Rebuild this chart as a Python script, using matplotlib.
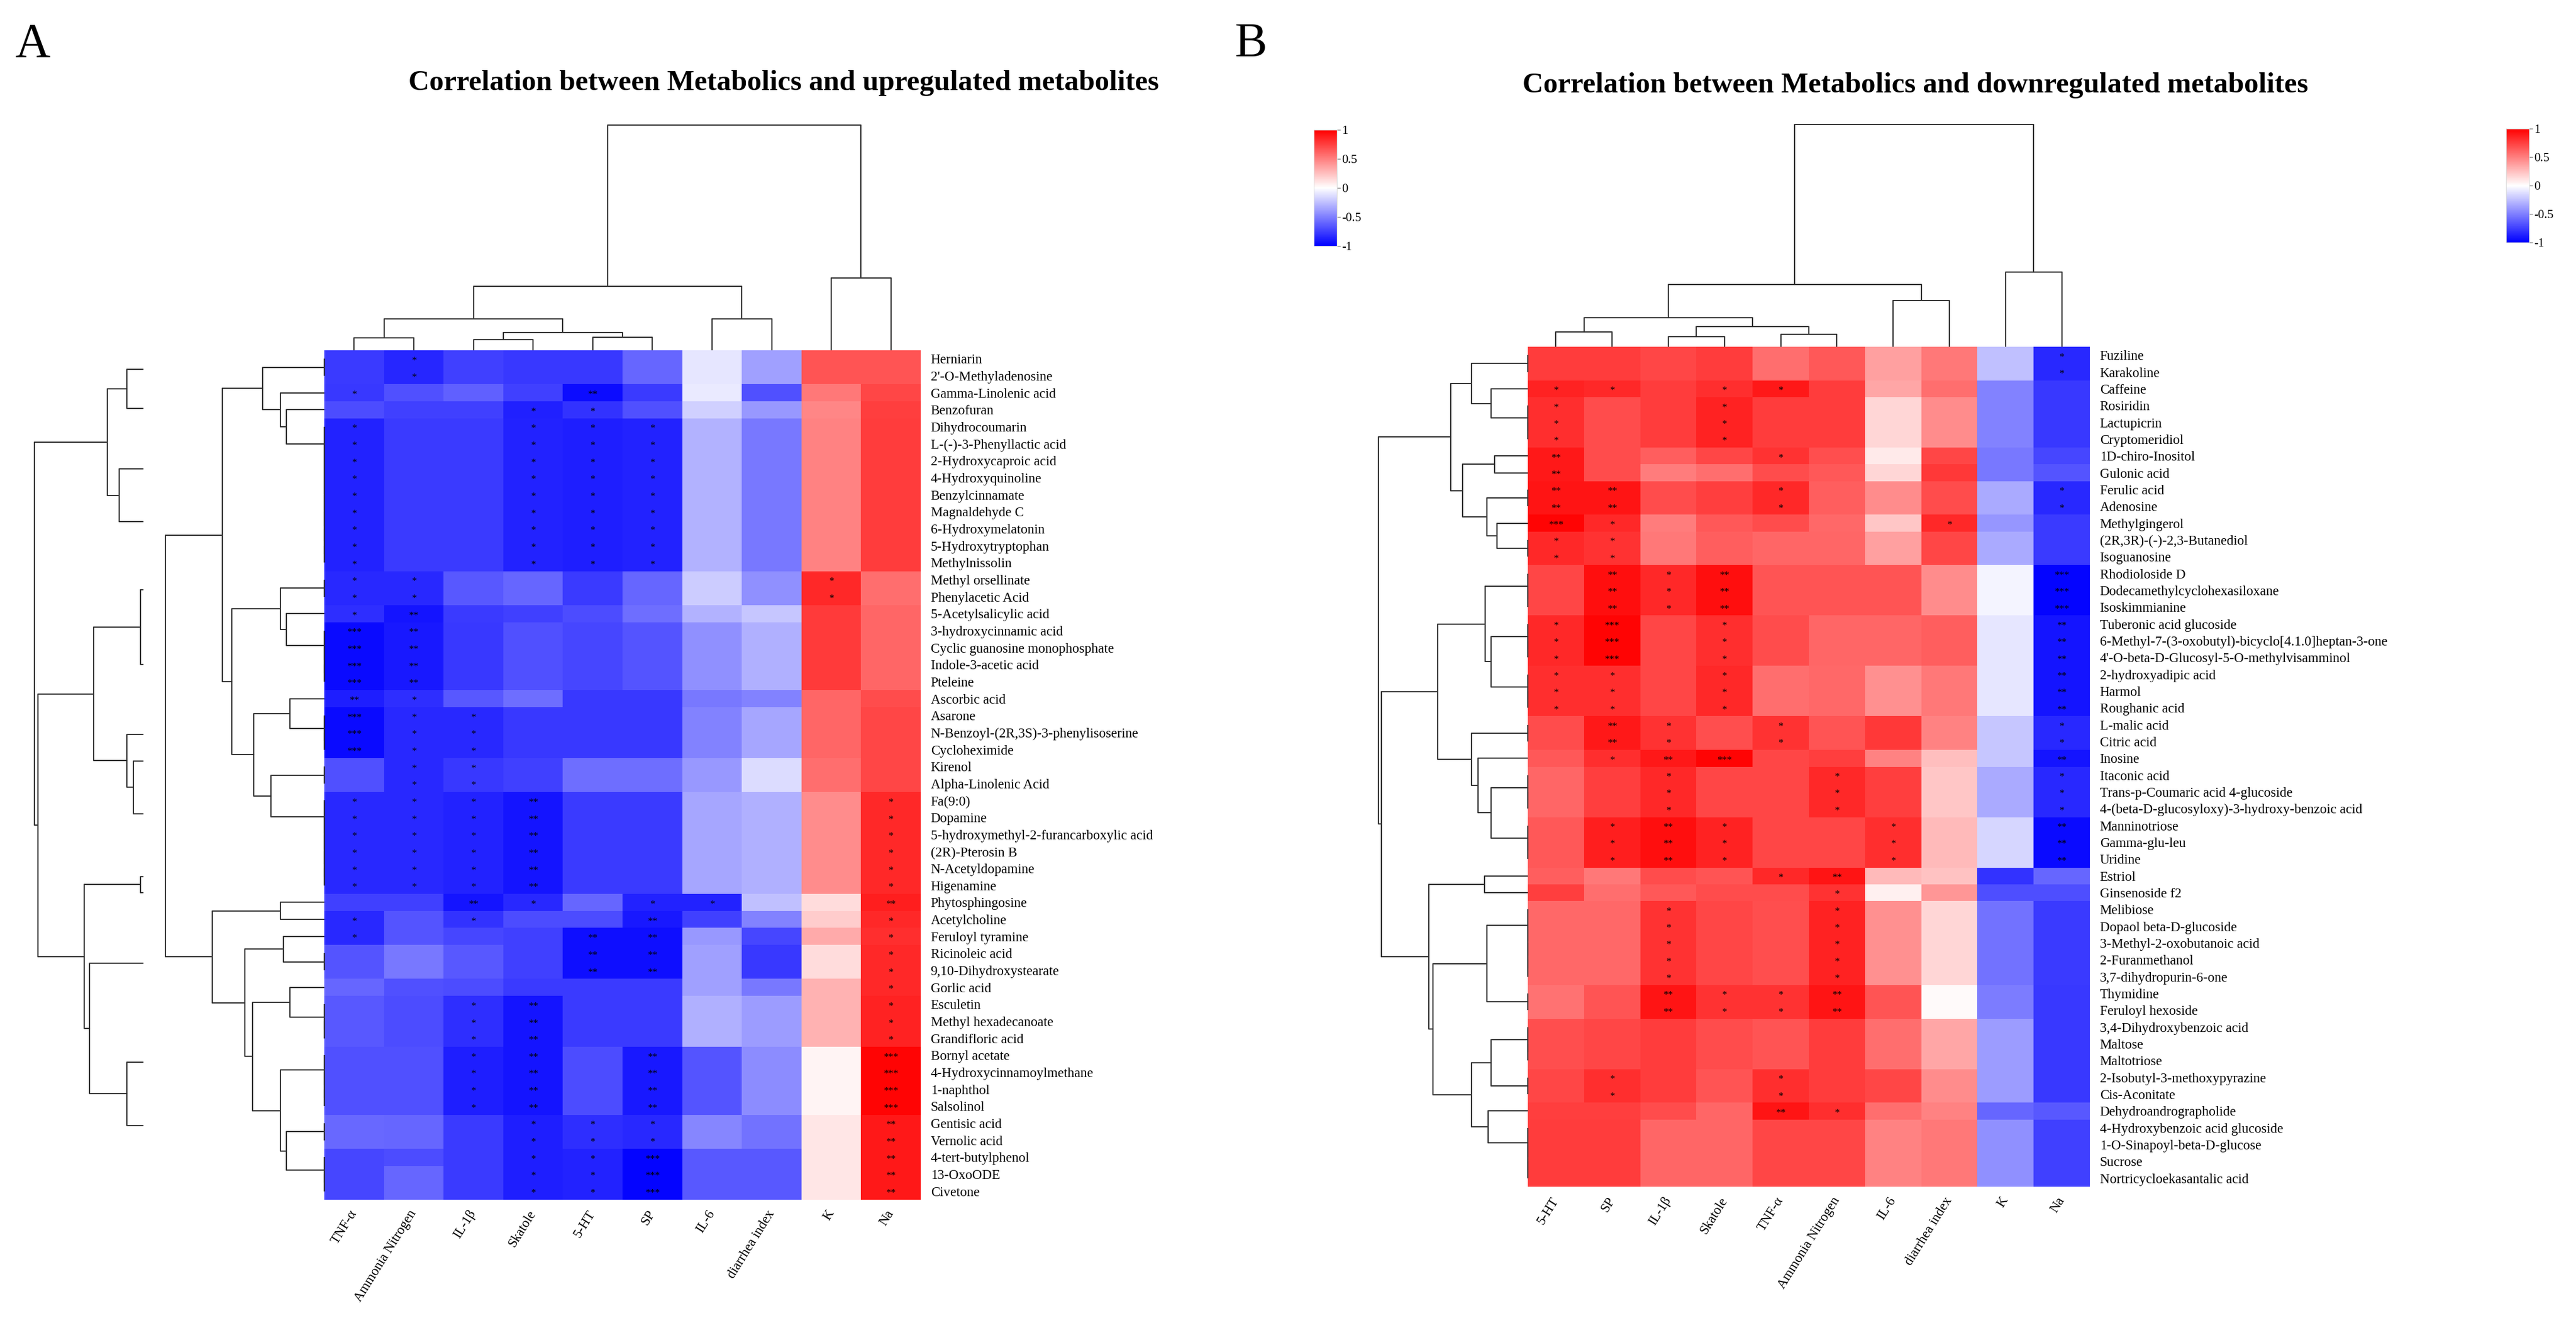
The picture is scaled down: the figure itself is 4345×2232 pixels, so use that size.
import numpy as np
import matplotlib
matplotlib.use("Agg")
import matplotlib.pyplot as plt

plt.rcParams["font.family"] = ["Liberation Serif", "DejaVu Serif"]
plt.rcParams["axes.unicode_minus"] = False

FIG_W, FIG_H = 4345, 2232
LINE = "#333333"


def chain(first, last):
    # identical rows join at height 0, bottom-up like R's hclust
    node = last
    for i in range(last - 1, first - 1, -1):
        node = (0.0, i, node)
    return node


# ---------------- panel A : upregulated metabolites ----------------
left_cols = ["TNF-α", "Ammonia Nitrogen", "IL-1β", "Skatole", "5-HT", "SP",
             "IL-6", "diarrhea index", "K", "Na"]
left_rows = [
    "Herniarin", "2'-O-Methyladenosine", "Gamma-Linolenic acid", "Benzofuran",
    "Dihydrocoumarin", "L-(-)-3-Phenyllactic acid", "2-Hydroxycaproic acid",
    "4-Hydroxyquinoline", "Benzylcinnamate", "Magnaldehyde C", "6-Hydroxymelatonin",
    "5-Hydroxytryptophan", "Methylnissolin", "Methyl orsellinate", "Phenylacetic Acid",
    "5-Acetylsalicylic acid", "3-hydroxycinnamic acid", "Cyclic guanosine monophosphate",
    "Indole-3-acetic acid", "Pteleine", "Ascorbic acid", "Asarone",
    "N-Benzoyl-(2R,3S)-3-phenylisoserine", "Cycloheximide", "Kirenol",
    "Alpha-Linolenic Acid", "Fa(9:0)", "Dopamine", "5-hydroxymethyl-2-furancarboxylic acid",
    "(2R)-Pterosin B", "N-Acetyldopamine", "Higenamine", "Phytosphingosine",
    "Acetylcholine", "Feruloyl tyramine", "Ricinoleic acid", "9,10-Dihydroxystearate",
    "Gorlic acid", "Esculetin", "Methyl hexadecanoate", "Grandifloric acid",
    "Bornyl acetate", "4-Hydroxycinnamoylmethane", "1-naphthol", "Salsolinol",
    "Gentisic acid", "Vernolic acid", "4-tert-butylphenol", "13-OxoODE", "Civetone",
]
left_vals = [
    [-0.77, -0.85, -0.75, -0.78, -0.78, -0.60, -0.10, -0.37, 0.67, 0.67],
    [-0.77, -0.85, -0.75, -0.78, -0.78, -0.60, -0.10, -0.37, 0.67, 0.67],
    [-0.78, -0.68, -0.62, -0.75, -0.95, -0.77, -0.08, -0.68, 0.53, 0.72],
    [-0.70, -0.75, -0.75, -0.87, -0.80, -0.68, -0.18, -0.40, 0.47, 0.75],
    [-0.86, -0.77, -0.77, -0.86, -0.88, -0.86, -0.30, -0.53, 0.49, 0.76],
    [-0.86, -0.77, -0.77, -0.86, -0.88, -0.86, -0.30, -0.53, 0.49, 0.76],
    [-0.86, -0.77, -0.77, -0.86, -0.88, -0.86, -0.30, -0.53, 0.49, 0.76],
    [-0.86, -0.77, -0.77, -0.86, -0.88, -0.86, -0.30, -0.53, 0.49, 0.76],
    [-0.86, -0.77, -0.77, -0.86, -0.88, -0.86, -0.30, -0.53, 0.49, 0.76],
    [-0.86, -0.77, -0.77, -0.86, -0.88, -0.86, -0.30, -0.53, 0.49, 0.76],
    [-0.86, -0.77, -0.77, -0.86, -0.88, -0.86, -0.30, -0.53, 0.49, 0.76],
    [-0.86, -0.77, -0.77, -0.86, -0.88, -0.86, -0.30, -0.53, 0.49, 0.76],
    [-0.86, -0.77, -0.77, -0.86, -0.88, -0.86, -0.30, -0.53, 0.49, 0.76],
    [-0.84, -0.84, -0.65, -0.60, -0.77, -0.60, -0.20, -0.43, 0.84, 0.57],
    [-0.84, -0.84, -0.65, -0.60, -0.77, -0.60, -0.20, -0.43, 0.84, 0.57],
    [-0.82, -0.92, -0.77, -0.75, -0.70, -0.57, -0.30, -0.22, 0.77, 0.60],
    [-0.96, -0.90, -0.78, -0.68, -0.72, -0.67, -0.43, -0.31, 0.77, 0.60],
    [-0.96, -0.90, -0.78, -0.68, -0.72, -0.67, -0.43, -0.31, 0.77, 0.60],
    [-0.96, -0.90, -0.78, -0.68, -0.72, -0.67, -0.43, -0.31, 0.77, 0.60],
    [-0.96, -0.90, -0.78, -0.68, -0.72, -0.67, -0.43, -0.31, 0.77, 0.60],
    [-0.88, -0.82, -0.65, -0.57, -0.78, -0.78, -0.53, -0.49, 0.60, 0.70],
    [-0.96, -0.84, -0.84, -0.78, -0.78, -0.78, -0.49, -0.35, 0.60, 0.72],
    [-0.96, -0.84, -0.84, -0.78, -0.78, -0.78, -0.49, -0.35, 0.60, 0.72],
    [-0.96, -0.84, -0.84, -0.78, -0.78, -0.78, -0.49, -0.35, 0.60, 0.72],
    [-0.68, -0.84, -0.78, -0.75, -0.57, -0.57, -0.40, -0.14, 0.57, 0.72],
    [-0.68, -0.84, -0.78, -0.75, -0.57, -0.57, -0.40, -0.14, 0.57, 0.72],
    [-0.84, -0.84, -0.86, -0.92, -0.77, -0.77, -0.35, -0.31, 0.45, 0.84],
    [-0.84, -0.84, -0.86, -0.92, -0.77, -0.77, -0.35, -0.31, 0.45, 0.84],
    [-0.84, -0.84, -0.86, -0.92, -0.77, -0.77, -0.35, -0.31, 0.45, 0.84],
    [-0.84, -0.84, -0.86, -0.92, -0.77, -0.77, -0.35, -0.31, 0.45, 0.84],
    [-0.84, -0.84, -0.86, -0.92, -0.77, -0.77, -0.35, -0.31, 0.45, 0.84],
    [-0.84, -0.84, -0.86, -0.92, -0.77, -0.77, -0.35, -0.31, 0.45, 0.84],
    [-0.75, -0.75, -0.92, -0.84, -0.60, -0.86, -0.86, -0.25, 0.14, 0.88],
    [-0.84, -0.67, -0.80, -0.70, -0.70, -0.90, -0.75, -0.49, 0.20, 0.84],
    [-0.84, -0.67, -0.72, -0.75, -0.94, -0.94, -0.40, -0.72, 0.33, 0.82],
    [-0.67, -0.53, -0.65, -0.75, -0.94, -0.94, -0.37, -0.78, 0.14, 0.84],
    [-0.67, -0.53, -0.65, -0.75, -0.94, -0.94, -0.37, -0.78, 0.14, 0.84],
    [-0.60, -0.68, -0.70, -0.77, -0.77, -0.77, -0.37, -0.53, 0.30, 0.84],
    [-0.65, -0.70, -0.82, -0.92, -0.77, -0.77, -0.31, -0.39, 0.30, 0.86],
    [-0.65, -0.70, -0.82, -0.92, -0.77, -0.77, -0.31, -0.39, 0.30, 0.86],
    [-0.65, -0.70, -0.82, -0.92, -0.77, -0.77, -0.31, -0.39, 0.30, 0.86],
    [-0.68, -0.68, -0.88, -0.92, -0.70, -0.90, -0.67, -0.45, 0.04, 0.98],
    [-0.68, -0.68, -0.88, -0.92, -0.70, -0.90, -0.67, -0.45, 0.04, 0.98],
    [-0.68, -0.68, -0.88, -0.92, -0.70, -0.90, -0.67, -0.45, 0.04, 0.98],
    [-0.68, -0.68, -0.88, -0.92, -0.70, -0.90, -0.67, -0.45, 0.04, 0.98],
    [-0.59, -0.60, -0.77, -0.88, -0.82, -0.84, -0.47, -0.55, 0.10, 0.90],
    [-0.59, -0.60, -0.77, -0.88, -0.82, -0.84, -0.47, -0.55, 0.10, 0.90],
    [-0.72, -0.70, -0.77, -0.88, -0.86, -0.98, -0.65, -0.65, 0.10, 0.90],
    [-0.72, -0.60, -0.77, -0.88, -0.86, -0.98, -0.65, -0.65, 0.10, 0.90],
    [-0.72, -0.60, -0.77, -0.88, -0.86, -0.98, -0.65, -0.65, 0.10, 0.90],
]
# number of significance stars per cell
left_stars = [
    "0100000000", "0100000000", "1000200000", "0001100000",
    "1001110000", "1001110000", "1001110000", "1001110000", "1001110000",
    "1001110000", "1001110000", "1001110000", "1001110000",
    "1100000010", "1100000010", "1200000000",
    "3200000000", "3200000000", "3200000000", "3200000000",
    "2100000000", "3110000000", "3110000000", "3110000000",
    "0110000000", "0110000000",
    "1112000001", "1112000001", "1112000001", "1112000001", "1112000001", "1112000001",
    "0021011002", "1010020001", "1000220001", "0000220001", "0000220001",
    "0000000001", "0012000001", "0012000001", "0012000001",
    "0012020003", "0012020003", "0012020003", "0012020003",
    "0001110002", "0001110002", "0001130002", "0001130002", "0001130002",
]
# dendrograms: (height, left, right), leaves are row / column indices
left_row_tree = (2.68,
    (1.72,
        (1.04, chain(0, 1), (0.74, 2, (0.64, 3, chain(4, 12)))),
        (1.56,
            (0.74, chain(13, 14), (0.64, 15, chain(16, 19))),
            (1.19, (0.58, 20, chain(21, 23)), (0.90, chain(24, 25), chain(26, 31))))),
    (1.89,
        (0.74, 32, 33),
        (1.34,
            (0.69, 34, chain(35, 36)),
            (1.21, (0.58, 37, chain(38, 40)),
                   (0.74, chain(41, 44), (0.64, chain(45, 46), chain(47, 49)))))))
# older tree left behind the main one (leaves given as row positions, cut off)
left_row_ghost = (4.89,
    (3.66, (3.33, 1.12, 3.42), (3.46, 6.97, 10.10)),
    (4.83,
        (3.89, (3.10, 14.11, 18.49), (3.33, 22.60, (3.22, 24.18, 27.27))),
        (4.05, (3.10, 30.99, 31.91), (3.96, 36.09, (3.33, 41.91, 45.63)))))
left_ghost_cut = 3.05
left_col_tree = (3.80,
    (1.08,
        (0.53, (0.21, 0, 1), (0.30, (0.18, 2, 3), (0.22, 4, 5))),
        (0.53, 6, 7)),
    (1.22, 8, 9))

# ---------------- panel B : downregulated metabolites ----------------
right_cols = ["5-HT", "SP", "IL-1β", "Skatole", "TNF-α", "Ammonia Nitrogen",
              "IL-6", "diarrhea index", "K", "Na"]
right_rows = [
    "Fuziline", "Karakoline", "Caffeine", "Rosiridin", "Lactupicrin", "Cryptomeridiol",
    "1D-chiro-Inositol", "Gulonic acid", "Ferulic acid", "Adenosine", "Methylgingerol",
    "(2R,3R)-(-)-2,3-Butanediol", "Isoguanosine", "Rhodioloside D",
    "Dodecamethylcyclohexasiloxane", "Isoskimmianine", "Tuberonic acid glucoside",
    "6-Methyl-7-(3-oxobutyl)-bicyclo[4.1.0]heptan-3-one",
    "4'-O-beta-D-Glucosyl-5-O-methylvisamminol", "2-hydroxyadipic acid", "Harmol",
    "Roughanic acid", "L-malic acid", "Citric acid", "Inosine", "Itaconic acid",
    "Trans-p-Coumaric acid 4-glucoside", "4-(beta-D-glucosyloxy)-3-hydroxy-benzoic acid",
    "Manninotriose", "Gamma-glu-leu", "Uridine", "Estriol", "Ginsenoside f2", "Melibiose",
    "Dopaol beta-D-glucoside", "3-Methyl-2-oxobutanoic acid", "2-Furanmethanol",
    "3,7-dihydropurin-6-one", "Thymidine", "Feruloyl hexoside", "3,4-Dihydroxybenzoic acid",
    "Maltose", "Maltotriose", "2-Isobutyl-3-methoxypyrazine", "Cis-Aconitate",
    "Dehydroandrographolide", "4-Hydroxybenzoic acid glucoside",
    "1-O-Sinapoyl-beta-D-glucose", "Sucrose", "Nortricycloekasantalic acid",
]
right_vals = [
    [0.76, 0.76, 0.72, 0.76, 0.57, 0.65, 0.37, 0.53, -0.25, -0.84],
    [0.76, 0.76, 0.72, 0.76, 0.57, 0.65, 0.37, 0.53, -0.25, -0.84],
    [0.86, 0.84, 0.76, 0.82, 0.90, 0.76, 0.35, 0.57, -0.49, -0.78],
    [0.82, 0.70, 0.76, 0.86, 0.76, 0.76, 0.16, 0.45, -0.49, -0.78],
    [0.82, 0.70, 0.76, 0.86, 0.76, 0.76, 0.16, 0.45, -0.49, -0.78],
    [0.82, 0.70, 0.76, 0.86, 0.76, 0.76, 0.16, 0.45, -0.49, -0.78],
    [0.90, 0.70, 0.63, 0.72, 0.80, 0.69, 0.08, 0.72, -0.53, -0.72],
    [0.90, 0.70, 0.51, 0.57, 0.70, 0.65, 0.16, 0.78, -0.53, -0.67],
    [0.92, 0.92, 0.70, 0.75, 0.84, 0.63, 0.45, 0.70, -0.33, -0.84],
    [0.92, 0.92, 0.70, 0.75, 0.84, 0.63, 0.45, 0.70, -0.33, -0.84],
    [0.98, 0.84, 0.51, 0.65, 0.70, 0.59, 0.22, 0.84, -0.41, -0.77],
    [0.84, 0.80, 0.53, 0.63, 0.60, 0.60, 0.37, 0.72, -0.33, -0.77],
    [0.84, 0.80, 0.53, 0.63, 0.60, 0.60, 0.37, 0.72, -0.33, -0.77],
    [0.72, 0.94, 0.84, 0.94, 0.67, 0.67, 0.67, 0.45, -0.04, -0.98],
    [0.72, 0.94, 0.84, 0.94, 0.67, 0.67, 0.67, 0.45, -0.04, -0.98],
    [0.72, 0.94, 0.84, 0.94, 0.67, 0.67, 0.67, 0.45, -0.04, -0.98],
    [0.84, 0.98, 0.72, 0.82, 0.70, 0.60, 0.60, 0.63, -0.10, -0.92],
    [0.84, 0.98, 0.72, 0.82, 0.70, 0.60, 0.60, 0.63, -0.10, -0.92],
    [0.84, 0.98, 0.72, 0.82, 0.70, 0.60, 0.60, 0.63, -0.10, -0.92],
    [0.82, 0.82, 0.72, 0.84, 0.57, 0.59, 0.43, 0.53, -0.10, -0.92],
    [0.82, 0.82, 0.72, 0.84, 0.57, 0.59, 0.43, 0.53, -0.10, -0.92],
    [0.82, 0.82, 0.72, 0.84, 0.57, 0.59, 0.43, 0.53, -0.10, -0.92],
    [0.70, 0.90, 0.80, 0.69, 0.80, 0.67, 0.78, 0.49, -0.22, -0.84],
    [0.70, 0.90, 0.80, 0.69, 0.80, 0.67, 0.78, 0.49, -0.22, -0.84],
    [0.65, 0.82, 0.90, 0.98, 0.72, 0.75, 0.49, 0.25, -0.22, -0.92],
    [0.60, 0.75, 0.84, 0.72, 0.72, 0.84, 0.75, 0.22, -0.33, -0.84],
    [0.60, 0.75, 0.84, 0.72, 0.72, 0.84, 0.75, 0.22, -0.33, -0.84],
    [0.60, 0.75, 0.84, 0.72, 0.72, 0.84, 0.75, 0.22, -0.33, -0.84],
    [0.65, 0.88, 0.94, 0.86, 0.72, 0.72, 0.82, 0.27, -0.16, -0.96],
    [0.65, 0.88, 0.94, 0.86, 0.72, 0.72, 0.82, 0.27, -0.16, -0.96],
    [0.65, 0.88, 0.94, 0.86, 0.72, 0.72, 0.82, 0.27, -0.16, -0.96],
    [0.63, 0.53, 0.70, 0.67, 0.84, 0.92, 0.27, 0.24, -0.80, -0.60],
    [0.75, 0.57, 0.65, 0.70, 0.70, 0.80, 0.06, 0.41, -0.69, -0.69],
    [0.59, 0.59, 0.80, 0.72, 0.69, 0.86, 0.43, 0.16, -0.55, -0.77],
    [0.59, 0.59, 0.80, 0.72, 0.69, 0.86, 0.43, 0.16, -0.55, -0.77],
    [0.59, 0.59, 0.80, 0.72, 0.69, 0.86, 0.43, 0.16, -0.55, -0.77],
    [0.59, 0.59, 0.80, 0.72, 0.69, 0.86, 0.43, 0.16, -0.55, -0.77],
    [0.59, 0.59, 0.80, 0.72, 0.69, 0.86, 0.43, 0.16, -0.55, -0.77],
    [0.55, 0.67, 0.92, 0.80, 0.80, 0.92, 0.67, 0.02, -0.51, -0.78],
    [0.55, 0.67, 0.92, 0.80, 0.80, 0.92, 0.67, 0.02, -0.51, -0.78],
    [0.69, 0.72, 0.76, 0.70, 0.67, 0.76, 0.57, 0.35, -0.39, -0.78],
    [0.69, 0.72, 0.76, 0.70, 0.67, 0.76, 0.57, 0.35, -0.39, -0.78],
    [0.69, 0.72, 0.76, 0.70, 0.67, 0.76, 0.57, 0.35, -0.39, -0.78],
    [0.72, 0.82, 0.76, 0.67, 0.82, 0.76, 0.72, 0.45, -0.39, -0.78],
    [0.72, 0.82, 0.76, 0.67, 0.82, 0.76, 0.72, 0.45, -0.39, -0.78],
    [0.75, 0.75, 0.70, 0.60, 0.92, 0.82, 0.57, 0.49, -0.60, -0.65],
    [0.76, 0.76, 0.60, 0.60, 0.72, 0.72, 0.49, 0.53, -0.43, -0.75],
    [0.76, 0.76, 0.60, 0.60, 0.72, 0.72, 0.49, 0.53, -0.43, -0.75],
    [0.76, 0.76, 0.60, 0.60, 0.72, 0.72, 0.49, 0.53, -0.43, -0.75],
    [0.76, 0.76, 0.60, 0.60, 0.72, 0.72, 0.49, 0.53, -0.43, -0.75],
]
right_stars = [
    "0000000001", "0000000001", "1101100000", "1001000000", "1001000000", "1001000000",
    "2000100000", "2000000000", "2200100001", "2200100001", "3100000100",
    "1100000000", "1100000000",
    "0212000003", "0212000003", "0212000003",
    "1301000002", "1301000002", "1301000002",
    "1101000002", "1101000002", "1101000002",
    "0210100001", "0210100001", "0123000002",
    "0010010001", "0010010001", "0010010001",
    "0121001002", "0121001002", "0121001002",
    "0000120000", "0000010000",
    "0010010000", "0010010000", "0010010000", "0010010000", "0010010000",
    "0021120000", "0021120000",
    "0000000000", "0000000000", "0000000000",
    "0100100000", "0100100000", "0000210000",
    "0000000000", "0000000000", "0000000000", "0000000000",
]
right_row_tree = (2.52,
    (1.30,
        (0.95, chain(0, 1), (0.62, 2, chain(3, 5))),
        (1.10, (0.56, 6, 7), (0.69, chain(8, 9), (0.52, 10, chain(11, 12))))),
    (2.47,
        (1.52,
            (0.72, chain(13, 15), (0.62, chain(16, 18), chain(19, 21))),
            (0.95, chain(22, 23), (0.84, 24, (0.62, chain(25, 27), chain(28, 30))))),
        (1.67,
            (0.73, 31, 32),
            (1.60,
                (0.69, chain(33, 37), chain(38, 39)),
                (0.95, (0.62, chain(40, 42), chain(43, 44)), (0.67, 45, chain(46, 49)))))))
right_col_tree = (3.75,
    (1.05,
        (0.49, (0.25, 0, 1), (0.34, (0.17, 2, 3), (0.21, 4, 5))),
        (0.78, 6, 7)),
    (1.26, 8, 9))

cbar_ticks = [-1, -0.5, 0, 0.5, 1]
cbar_labels = ["-1", "-0.5", "0", "0.5", "1"]


fig = plt.figure(figsize=(FIG_W / 100, FIG_H / 100), dpi=100)


def px_axes(x0, y0, x1, y1):
    # box given in image pixels, origin top-left
    ax = fig.add_axes([x0 / FIG_W, 1 - y1 / FIG_H, (x1 - x0) / FIG_W, (y1 - y0) / FIG_H])
    return ax


def draw_tree(ax, node, rows, floor=0.0):
    if not isinstance(node, tuple):
        pos = node + 0.5 if isinstance(node, int) else node
        return pos, floor
    h, a, b = node
    pa, ha = draw_tree(ax, a, rows, floor)
    pb, hb = draw_tree(ax, b, rows, floor)
    xs, ys = [ha, h, h, hb], [pa, pa, pb, pb]
    if not rows:
        xs, ys = ys, xs
    ax.plot(xs, ys, color=LINE, lw=1.5, solid_capstyle="butt", clip_on=False)
    return (pa + pb) / 2, h


def heatmap(box, vals, stars, rows, cols):
    ax = px_axes(*box)
    mesh = ax.pcolormesh(np.arange(len(cols) + 1), np.arange(len(rows) + 1),
                         np.array(vals), cmap="bwr", vmin=-1, vmax=1)
    ax.set_xlim(0, len(cols))
    ax.set_ylim(len(rows), 0)
    ax.yaxis.tick_right()
    ax.set_yticks(np.arange(len(rows)) + 0.5, rows, fontsize=16.5)
    ax.set_xticks(np.arange(len(cols)) + 0.5, cols, fontsize=16.5, rotation=58,
                  ha="right", va="center", rotation_mode="anchor")
    ax.tick_params(length=0)
    ax.tick_params(axis="x", pad=14)
    ax.tick_params(axis="y", pad=12)
    for s in ax.spines.values():
        s.set_visible(False)
    for i, code in enumerate(stars):
        for j, ch in enumerate(code):
            if ch != "0":
                ax.text(j + 0.5, i + 0.62, "*" * int(ch), ha="center", va="center",
                        fontsize=12, color="black")
    return mesh


def colorbar(mesh, box):
    cax = px_axes(*box)
    cb = fig.colorbar(mesh, cax=cax, ticks=cbar_ticks)
    cb.ax.set_yticklabels(cbar_labels)
    cb.outline.set_edgecolor("#dddddd")
    cb.ax.tick_params(labelsize=15, length=4, width=1, pad=2, color="#888888")


# panel A
mesh_a = heatmap((547, 591, 1553, 2024), left_vals, left_stars, left_rows, left_cols)

ax = px_axes(547, 191, 1553, 591)
draw_tree(ax, left_col_tree, rows=False)
ax.set_xlim(0, len(left_cols))
ax.set_ylim(0, 4.0)
ax.axis("off")

ax = px_axes(40, 591, 547, 2024)
draw_tree(ax, left_row_tree, rows=True)
draw_tree(ax, left_row_ghost, rows=True, floor=left_ghost_cut)
ax.set_xlim(5.07, 0)
ax.set_ylim(len(left_rows), 0)
ax.axis("off")

colorbar(mesh_a, (2216, 219, 2255, 415))

# panel B
mesh_b = heatmap((2577, 585, 3525, 2002), right_vals, right_stars, right_rows, right_cols)

ax = px_axes(2577, 185, 3525, 585)
draw_tree(ax, right_col_tree, rows=False)
ax.set_xlim(0, len(right_cols))
ax.set_ylim(0, 4.0)
ax.axis("off")

ax = px_axes(2297, 585, 2577, 2002)
draw_tree(ax, right_row_tree, rows=True)
ax.set_xlim(2.80, 0)
ax.set_ylim(len(right_rows), 0)
ax.axis("off")

colorbar(mesh_b, (4227, 217, 4266, 409))

# titles and panel letters
fig.text(1322 / FIG_W, 1 - 140 / FIG_H, "Correlation between Metabolics and upregulated metabolites",
         ha="center", va="center", fontsize=35, fontweight="bold")
fig.text(3231 / FIG_W, 1 - 144 / FIG_H, "Correlation between Metabolics and downregulated metabolites",
         ha="center", va="center", fontsize=35, fontweight="bold")
fig.text(25 / FIG_W, 1 - 95 / FIG_H, "A", ha="left", va="baseline", fontsize=59)
fig.text(2083 / FIG_W, 1 - 95 / FIG_H, "B", ha="left", va="baseline", fontsize=59)

fig.savefig("out.png", dpi=100, facecolor="white")
